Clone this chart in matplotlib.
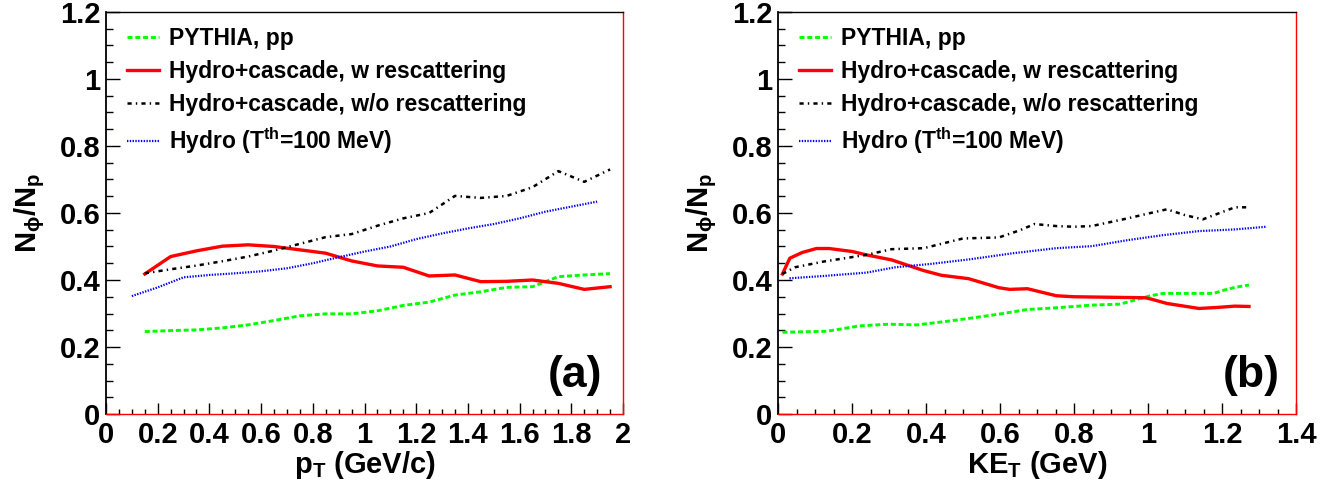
import matplotlib
matplotlib.use("Agg")
import matplotlib.pyplot as plt
from matplotlib.ticker import MultipleLocator, FuncFormatter

plt.rcParams['font.family'] = ['Liberation Sans', 'DejaVu Sans']
plt.rcParams['font.weight'] = 'bold'
plt.rcParams['axes.labelweight'] = 'bold'
plt.rcParams['mathtext.fontset'] = 'custom'
plt.rcParams['mathtext.rm'] = 'Liberation Sans:bold'
plt.rcParams['mathtext.it'] = 'Liberation Sans:bold'
plt.rcParams['mathtext.bf'] = 'Liberation Sans:bold'
plt.rcParams['lines.scale_dashes'] = False

# ---- panel (a): vs pT ----
pt = [0.15, 0.25, 0.35, 0.45, 0.55, 0.65, 0.75, 0.85, 0.95, 1.05,
      1.15, 1.25, 1.35, 1.45, 1.55, 1.65, 1.75, 1.85, 1.95]
pythia_a = [0.246, 0.249, 0.251, 0.257, 0.266, 0.279, 0.293, 0.299, 0.299, 0.308,
            0.324, 0.334, 0.355, 0.365, 0.378, 0.380, 0.410, 0.415, 0.419]
resc_a = [0.418, 0.470, 0.487, 0.501, 0.505, 0.500, 0.490, 0.480, 0.457, 0.442,
          0.438, 0.412, 0.415, 0.395, 0.396, 0.400, 0.390, 0.372, 0.380]
noresc_a = [0.420, 0.432, 0.443, 0.456, 0.470, 0.488, 0.508, 0.528, 0.537, 0.562,
            0.584, 0.600, 0.651, 0.645, 0.651, 0.677, 0.725, 0.693, 0.730]
pt_hydro = [0.1, 0.2, 0.3, 0.4, 0.5, 0.6, 0.7, 0.8, 0.9, 1.0,
            1.1, 1.2, 1.3, 1.4, 1.5, 1.6, 1.7, 1.8, 1.9]
hydro_a = [0.352, 0.378, 0.408, 0.415, 0.420, 0.426, 0.435, 0.450, 0.468, 0.485,
           0.500, 0.522, 0.539, 0.554, 0.567, 0.584, 0.604, 0.619, 0.634]

# ---- panel (b): vs KE_T ----
ke_pythia = [0.012, 0.133, 0.220, 0.298, 0.375, 0.452, 0.520, 0.597, 0.674, 0.752,
             0.848, 0.925, 0.964, 1.003, 1.041, 1.177, 1.206, 1.235, 1.273]
pythia_b = [0.244, 0.247, 0.263, 0.268, 0.266, 0.276, 0.286, 0.298, 0.312, 0.317,
            0.325, 0.328, 0.340, 0.352, 0.360, 0.360, 0.370, 0.378, 0.385]
ke_resc = [0.012, 0.032, 0.065, 0.104, 0.138, 0.201, 0.239, 0.307, 0.394, 0.442,
           0.515, 0.597, 0.626, 0.674, 0.752, 0.800, 0.993, 1.012, 1.051, 1.138,
           1.186, 1.235, 1.273]
resc_b = [0.418, 0.465, 0.482, 0.494, 0.494, 0.485, 0.475, 0.460, 0.428, 0.414,
          0.404, 0.377, 0.372, 0.374, 0.353, 0.350, 0.347, 0.342, 0.330, 0.315,
          0.318, 0.322, 0.321]
ke_noresc = [0.012, 0.046, 0.123, 0.239, 0.307, 0.394, 0.500, 0.597, 0.655, 0.693,
             0.752, 0.800, 0.848, 0.945, 1.003, 1.051, 1.099, 1.148, 1.196, 1.235,
             1.273]
noresc_b = [0.418, 0.438, 0.455, 0.475, 0.492, 0.495, 0.524, 0.527, 0.549, 0.567,
            0.561, 0.559, 0.561, 0.584, 0.599, 0.611, 0.594, 0.581, 0.601, 0.617,
            0.617]
ke_hydro = [0.031, 0.123, 0.239, 0.317, 0.413, 0.520, 0.636, 0.752, 0.848, 0.945,
            1.041, 1.138, 1.235, 1.320]
hydro_b = [0.405, 0.412, 0.422, 0.438, 0.448, 0.462, 0.480, 0.495, 0.501, 0.519,
           0.534, 0.546, 0.551, 0.559]

labels = ['PYTHIA, pp', 'Hydro+cascade, w rescattering',
          'Hydro+cascade, w/o rescattering', 'Hydro (T$^{\\mathrm{th}}$=100 MeV)']


def draw_panel(ax, series, xmax, xlabel, tag):
    styles = [dict(color='#00ff00', lw=2.1, dashes=(3.6, 2.0)),
              dict(color='#ff0000', lw=2.4),
              dict(color='black', lw=1.8, dashes=(3, 3, 1, 3)),
              dict(color='#0000ff', lw=1.6, dashes=(1.0, 1.0))]
    for (x, y), st, lab in zip(series, styles, labels):
        ax.plot(x, y, label=lab, **st)

    ax.set_xlim(0, xmax)
    ax.set_ylim(0, 1.2)
    ax.xaxis.set_major_locator(MultipleLocator(0.2))
    ax.xaxis.set_minor_locator(MultipleLocator(0.05))
    ax.yaxis.set_major_locator(MultipleLocator(0.2))
    ax.yaxis.set_minor_locator(MultipleLocator(0.05))
    fmt = FuncFormatter(lambda v, p: '%g' % round(v, 2))
    ax.xaxis.set_major_formatter(fmt)
    ax.yaxis.set_major_formatter(fmt)
    ax.tick_params(axis='both', which='both', direction='in', top=False, right=False,
                   labelsize=21, width=1)
    ax.tick_params(axis='y', which='major', length=10, pad=4)
    ax.tick_params(axis='y', which='minor', length=5)
    ax.tick_params(axis='x', which='major', length=7.7, pad=5)
    ax.tick_params(axis='x', which='minor', length=3.8)

    ax.spines['left'].set_linewidth(1.3)
    ax.spines['top'].set_linewidth(1.0)
    ax.spines['right'].set_color('red')
    ax.spines['right'].set_linewidth(1.0)
    ax.spines['bottom'].set_color('red')
    ax.spines['bottom'].set_linewidth(1.0)

    ax.set_xlabel(xlabel, fontsize=21, fontweight='bold')
    ax.xaxis.set_label_coords(0.5, -0.088)
    ax.set_ylabel(r'$\mathrm{N_{\phi}/N_{p}}$', fontsize=21, va='center')
    ax.yaxis.set_label_coords(-0.147, 0.5)

    ax.legend(loc='upper left', bbox_to_anchor=(0.04, 0.962), frameon=False,
              prop={'size': 16.5, 'weight': 'bold'}, borderpad=0, borderaxespad=0,
              handlelength=1.42, handletextpad=0.42, labelspacing=0.42)

    ax.text(tag[1], 0.067, tag[0], transform=ax.transAxes, fontsize=32,
            fontweight='bold', ha='right', va='baseline')


fig = plt.figure(figsize=(13.28, 4.8), dpi=100)
ax1 = fig.add_axes([106 / 1328, 66 / 480, 517 / 1328, 402 / 480])
ax2 = fig.add_axes([778 / 1328, 66 / 480, 518 / 1328, 402 / 480])

draw_panel(ax1, [(pt, pythia_a), (pt, resc_a), (pt, noresc_a), (pt_hydro, hydro_a)],
           2.0, r'$\mathrm{p_{T}}$ (GeV/c)', ('(a)', 0.959))
draw_panel(ax2, [(ke_pythia, pythia_b), (ke_resc, resc_b), (ke_noresc, noresc_b),
                 (ke_hydro, hydro_b)],
           1.4, r'$\mathrm{KE_{T}}$ (GeV)', ('(b)', 0.969))

fig.savefig('out.png', dpi=100)
